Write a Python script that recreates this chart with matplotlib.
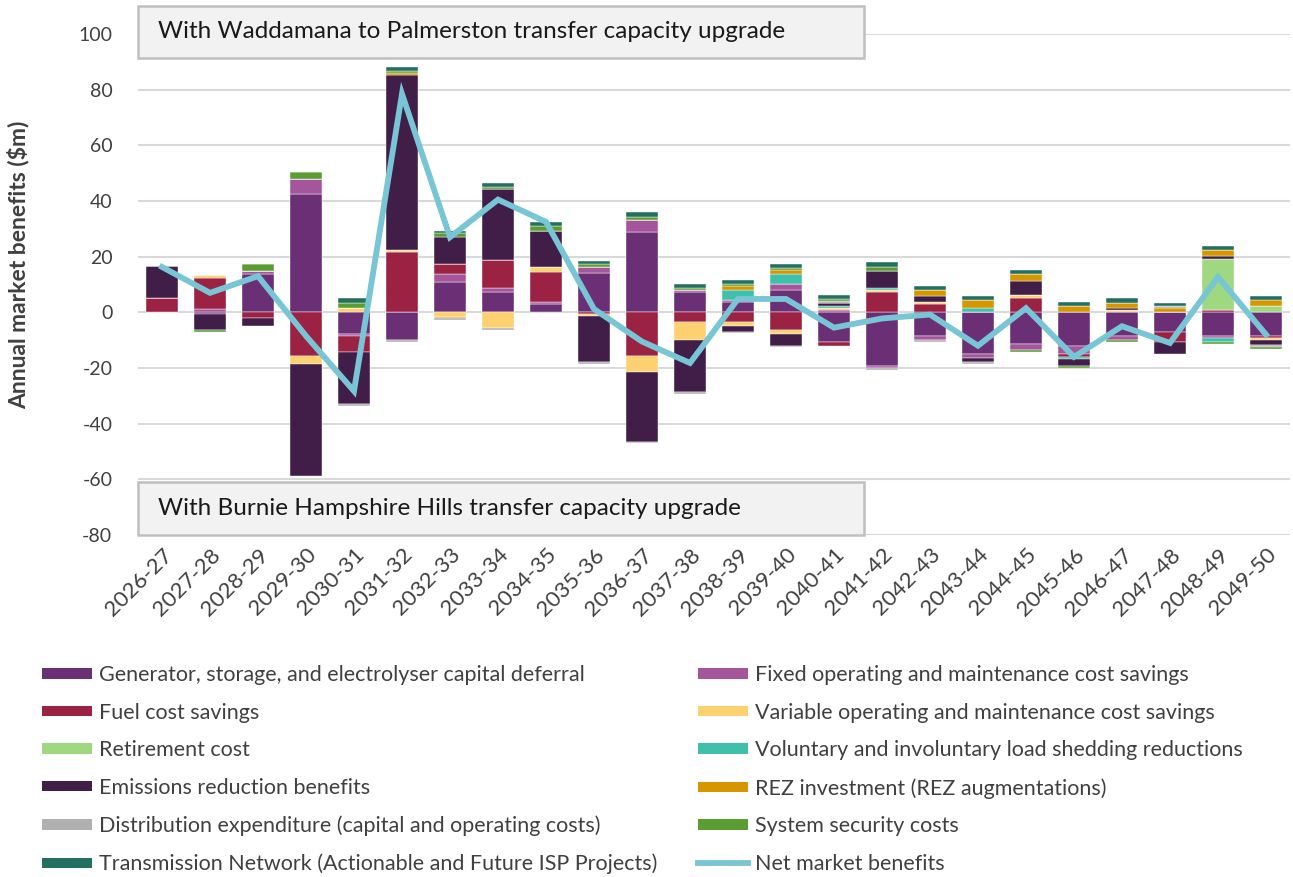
import numpy as np
import matplotlib
matplotlib.use("Agg")
import matplotlib.pyplot as plt
from matplotlib.patches import Rectangle
from matplotlib.lines import Line2D
from matplotlib.patches import Patch

plt.rcParams['font.family'] = ['Lato', 'DejaVu Sans']
plt.rcParams['axes.unicode_minus'] = False

years = ['2026-27', '2027-28', '2028-29', '2029-30', '2030-31', '2031-32', '2032-33', '2033-34',
         '2034-35', '2035-36', '2036-37', '2037-38', '2038-39', '2039-40', '2040-41', '2041-42',
         '2042-43', '2043-44', '2044-45', '2045-46', '2046-47', '2047-48', '2048-49', '2049-50']

# benefit components ($m)
gen = [0, -0.7, 13.7, 42.5, -7.8, -9.9, 10.8, 7.2, 2.9, 14.2, 28.7, 7.3,
       3.6, 7.9, -10.7, -19.2, -8.4, -14.9, -11.3, -12.0, -8.4, -7.0, -8.4, -8.4]
fom = [0, 1.2, 1.3, 5.5, -0.8, 0, 2.9, 1.6, 0.7, 2.0, 4.3, 0.8,
       0.7, 2.2, 0.9, -0.7, -1.4, -1.4, -2.2, -3.0, -1.4, 0, -0.8, 0]
fuel = [5.3, 11.3, -2.0, -15.6, -5.6, 21.5, 3.6, 9.9, 10.8, -0.6, -15.6, -3.4,
        -3.4, -6.2, -1.3, 7.2, 2.9, 0, 5.0, -1.1, 0, -3.8, 0.7, -0.8]
vom = [0, 0.8, 0, -3.0, 1.4, 0.8, -1.6, -5.7, 2.0, -0.7, -5.7, -6.6,
       -1.4, -1.6, 0.6, 0.8, 0.7, 0, 1.4, 0, 0.8, 0, 0, -0.8]
retire = [0, 0, 0, 0, 0, 0, 0, 0, 0, 0, 0, 0,
          0, 0, 0, 0, 0, 0, 0, 0, 0, 0, 18.6, 2.2]
loadshed = [0, 0, 0, 0, 0, 0, 0, 0, 0, 0, 0, 0,
            3.6, 3.7, 0.7, 0.7, 0, 1.6, 0, -0.7, 0, 0, -1.6, 0]
emis = [11.3, -5.5, -2.8, -40.1, -18.6, 62.8, 9.9, 25.7, 13.0, -16.6, -25.3, -18.7,
        -2.2, -4.2, 1.2, 6.3, 2.2, -1.4, 5.0, -2.4, 0.7, -4.1, 0.8, -1.9]
rez = [0, 0, 0, 0, 0, 0.8, -0.4, 0, 0, 0, 0, 0,
       1.4, 1.4, 0, 0, 2.2, 2.8, 2.3, 2.4, 2.0, 1.4, 2.2, 2.2]
distrib = [0, 0, 0, 0, -0.7, -0.8, -0.8, -0.6, 0, -0.6, -0.5, -0.6,
           -0.6, -0.6, 0.6, -0.7, -1.0, -0.7, 0, 0, 0, 0.8, 0, -0.6]
syssec = [0, -0.8, 2.5, 2.3, 2.0, 0.7, 1.2, 0.7, 1.6, 1.0, 1.4, 0.8,
          0.8, 0.7, 0.8, 1.4, 0, 0, -0.7, -0.8, -0.8, 0, -0.6, -0.6]
trans = [0, 0, 0, 0, 1.6, 1.5, 1.0, 1.4, 1.3, 1.3, 1.6, 1.2,
         1.4, 1.4, 1.4, 1.6, 1.6, 1.6, 1.4, 1.3, 1.6, 1.3, 1.4, 1.4]
net = [16.3, 7.0, 13.0, -8.5, -28.3, 78.5, 27.0, 40.5, 32.5, 1.2, -10.5, -18.2,
       4.8, 4.8, -5.5, -2.2, -0.8, -12.0, 1.5, -16.0, -5.0, -11.0, 12.7, -8.0]

series = [
    ("Generator, storage, and electrolyser capital deferral", gen, '#6B2F75'),
    ("Fixed operating and maintenance cost savings", fom, '#A5559B'),
    ("Fuel cost savings", fuel, '#9B2242'),
    ("Variable operating and maintenance cost savings", vom, '#FDD070'),
    ("Retirement cost", retire, '#A0D882'),
    ("Voluntary and involuntary load shedding reductions", loadshed, '#40C0AA'),
    ("Emissions reduction benefits", emis, '#401E48'),
    ("REZ investment (REZ augmentations)", rez, '#D69600'),
    ("Distribution expenditure (capital and operating costs)", distrib, '#B0B0B0'),
    ("System security costs", syssec, '#5A9E32'),
    ("Transmission Network (Actionable and Future ISP Projects)", trans, '#247060'),
]
net_color = '#77C5D5'

fig = plt.figure(figsize=(12.93, 8.77), dpi=100)
ax = fig.add_axes([138 / 1293, 1 - 535 / 877, 1152 / 1293, 501 / 877])

x = np.arange(len(years))
pos_base = np.zeros(len(years))
neg_base = np.zeros(len(years))
handles = {}
for label, vals, color in series:
    v = np.array(vals)
    bottom = np.where(v >= 0, pos_base, neg_base)
    ax.bar(x, v, width=0.67, bottom=bottom, color=color,
           edgecolor='white', linewidth=0.3, zorder=2)
    pos_base += np.where(v >= 0, v, 0)
    neg_base += np.where(v < 0, v, 0)
    handles[label] = Patch(facecolor=color, edgecolor='none')

ax.plot(x, net, color=net_color, linewidth=4.2, zorder=3, solid_joinstyle='miter')

ax.set_xlim(-0.5, len(years) - 0.5)
ax.set_ylim(-80, 100)
ax.set_yticks(np.arange(-80, 101, 20))
ax.tick_params(axis='y', labelsize=14, labelcolor='#404040', length=0, pad=18.5)
ax.set_xticks(x)
ax.set_xticklabels(years, rotation=45, ha='right', rotation_mode='anchor',
                   fontsize=16, color='#404040')
ax.tick_params(axis='x', length=0, pad=7)
ax.grid(axis='y', color='#D9D9D9', linewidth=1.5, zorder=0)
ax.set_axisbelow(True)
for s in ax.spines.values():
    s.set_visible(False)

fig.text(18 / 1293, 1 - 265 / 877, "Annual market benefits ($m)", rotation=90,
         fontsize=16.5, fontweight='bold', color='#404040', ha='center', va='center')

# scenario labels
box_w = (864 - 138) / 1152
for y0, y1, txt in [(91.4, 110.1, "With Waddamana to Palmerston transfer capacity upgrade"),
                    (-80, -61.0, "With Burnie Hampshire Hills transfer capacity upgrade")]:
    ax.add_patch(Rectangle((0, y0), box_w, y1 - y0, transform=ax.get_yaxis_transform(),
                           facecolor='#F2F2F2', edgecolor='#BFBFBF', linewidth=1.8,
                           clip_on=False, zorder=5))
    ax.text(0.0174, (y0 + y1) / 2, txt, transform=ax.get_yaxis_transform(),
            fontsize=17.5, color='#1A1A1A', va='center', ha='left', zorder=6)

left_labels = [series[i][0] for i in (0, 2, 4, 6, 8, 10)]
right_labels = [series[i][0] for i in (1, 3, 5, 7, 9)]
net_label = "Net market benefits"

leg_kw = dict(frameon=False, fontsize=15.5, handlelength=2.33, handleheight=0.37,
              handletextpad=0.3, labelspacing=0.82, labelcolor='#404040',
              borderaxespad=0, borderpad=0)
leg1 = fig.legend([handles[l] for l in left_labels], left_labels, loc='upper left',
                  bbox_to_anchor=(42 / 1293, 1 - 665 / 877), **leg_kw)
rh = [handles[l] for l in right_labels] + [Line2D([], [], color=net_color, linewidth=4.2)]
leg2 = fig.legend(rh, right_labels + [net_label], loc='upper left',
                  bbox_to_anchor=(698 / 1293, 1 - 665 / 877), **leg_kw)

fig.savefig("out.png", dpi=100)
